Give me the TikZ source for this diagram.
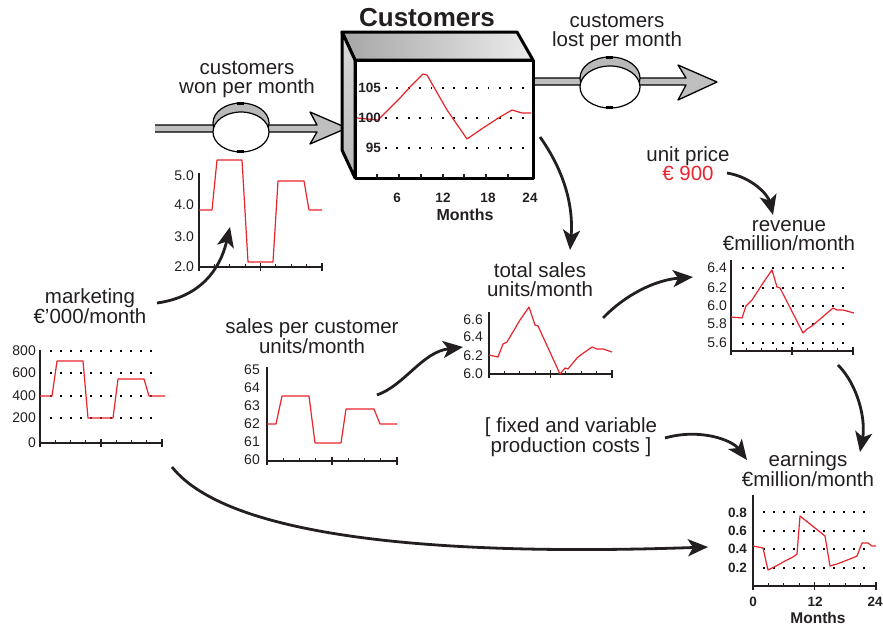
\documentclass[tikz,border=0pt]{standalone}
\usepackage{fontspec}
\setmainfont{Liberation Sans}
\usetikzlibrary{arrows.meta}
\definecolor{txt}{HTML}{231F20}
\definecolor{curve}{HTML}{E8242C}
% x axis with 8 intervals: short ticks, longer ticks at both ends and the middle
\newcommand{\tickaxis}[3]{%
  \draw[axisline] (#1,#3) -- (#2,#3);
  \foreach \i in {1,2,3,5,6,7} \draw[axisline] ({#1+(#2-#1)*\i/8},#3) -- ++(0,-3);
  \foreach \i in {0,4,8} \draw[axisline] ({#1+(#2-#1)*\i/8},{#3-4}) -- ++(0,8);
}
\begin{document}
\begin{tikzpicture}[x=1pt,y=-1pt,
  lbl/.style={font=\fontsize{20.5}{19}\selectfont, align=center, text=txt, inner sep=0pt},
  num/.style={font=\fontsize{14}{14}\selectfont, text=txt, inner sep=0pt, anchor=east},
  bnum/.style={font=\bfseries\fontsize{13.5}{13.5}\selectfont, text=txt, inner sep=0pt},
  axisline/.style={line width=1.1pt, draw=txt},
  gridline/.style={line width=1.8pt, dash pattern=on 1.8pt off 8.2pt, draw=black},
  series/.style={draw=curve, line width=1.2pt, line join=round},
  link/.style={line width=2.8pt, draw=txt, -{Stealth[length=20pt,width=17pt,inset=5pt]}},
  pipeline/.style={draw=black, line width=1.3pt, line join=round},
  pipefill/.style={fill=gray!50},
]
\useasboundingbox (0,0) rectangle (883,627);

% ---------- inflow pipe and valve ----------
\path[pipefill] (155,125) -- (317,125) -- (310,112) -- (347,128) -- (310,144) -- (317,132) -- (155,132) -- cycle;
\draw[pipeline] (155,125) -- (317,125) -- (310,112) -- (347,128) -- (310,144) -- (317,132) -- (155,132);
\fill[gray!55] (213,123) rectangle (269,132);
\draw[line width=1.2pt, fill=gray!55] (241,123) ellipse [x radius=28, y radius=20];
\draw[line width=1.2pt, fill=white] (241,132) ellipse [x radius=28, y radius=20];
\fill (237,102) rectangle (244,105);
\fill (237,150) rectangle (244,153);
\node[lbl] (won) at (247,79) {customers\\won per month};

% ---------- outflow pipe and valve ----------
\path[pipefill] (533,78) -- (686,78) -- (678,65) -- (717,82) -- (678,100) -- (686,85) -- (533,85) -- cycle;
\draw[pipeline] (533,78) -- (686,78) -- (678,65) -- (717,82) -- (678,100) -- (686,85) -- (533,85);
\fill[gray!55] (580,78) rectangle (640,87);
\draw[line width=1.2pt, fill=gray!55] (610,78) ellipse [x radius=30, y radius=21];
\draw[line width=1.2pt, fill=white] (610,87) ellipse [x radius=30, y radius=21];
\fill (606,56) rectangle (613,59);
\fill (606,106) rectangle (613,109);
\node[lbl] (lost) at (617,32.5) {customers\\lost per month};

% ---------- stock box ----------
\node[font=\bfseries\fontsize{26}{26}\selectfont, text=txt, inner sep=0pt] (stocktitle) at (427,18) {Customers};
\draw[line width=3pt, line join=round, left color=gray!70, right color=gray!15]
  (342,32) -- (517,32) -- (533,60) -- (355,60) -- cycle;
\draw[line width=3pt, line join=round, top color=gray!30, bottom color=gray!55]
  (342,32) -- (355,60) -- (355,178) -- (342,150) -- cycle;
\draw[line width=3pt, line join=round, fill=white] (355,60) rectangle (533,178);
\foreach \y in {88,118,148} \draw[gridline, dash pattern=on 1.8pt off 9.6pt] (385,\y) -- (530,\y);
\foreach \x in {377,399,421,443,464,486,508} \draw[axisline] (\x,178) -- ++(0,-4);
\draw[series] (357,118) -- (378,120) -- (400,98) -- (410,87) -- (423,74) -- (427,75) -- (447,110)
  -- (467,139) -- (483,128) -- (500,117) -- (512,110) -- (522,113) -- (531,113);
\node[bnum, anchor=east] (s105) at (381,88) {105};
\node[bnum, anchor=east] (s100) at (381,118) {100};
\node[bnum, anchor=east] (s95) at (381,148) {95};
\node[bnum] (m6) at (397,198) {6};
\node[bnum] (m12) at (443,198) {12};
\node[bnum] (m18) at (488,198) {18};
\node[bnum] (m24) at (530,198) {24};
\node[font=\bfseries\fontsize{16}{16}\selectfont, text=txt, inner sep=0pt] (smonths) at (465,215) {Months};

% ---------- customers won chart ----------
\draw[axisline] (199,173) -- (199,267);
\tickaxis{199}{322}{267}
\draw[series] (199,210) -- (212,210) -- (217,160) -- (242,160) -- (248,262) -- (273,262)
  -- (278,181) -- (304,181) -- (309,210) -- (322,210);
\node[num] (w5) at (194,176) {5.0};
\node[num] (w4) at (194,205) {4.0};
\node[num] (w3) at (194,237) {3.0};
\node[num] (w2) at (194,267) {2.0};

% ---------- marketing chart ----------
\node[lbl] (mkt) at (90,306) {marketing\\€’000/month};
\foreach \y in {351,373,396,418} \draw[gridline] (50,\y) -- (158,\y);
\draw[axisline] (40,350) -- (40,443);
\tickaxis{40}{162}{443}
\draw[series] (40,396) -- (52,396) -- (57,361) -- (83,361) -- (88,418) -- (113,418)
  -- (118,379) -- (144,379) -- (149,396) -- (165,396);
\node[num] (k800) at (36,351) {800};
\node[num] (k600) at (36,373) {600};
\node[num] (k400) at (36,396) {400};
\node[num] (k200) at (36,418) {200};
\node[num] (k0) at (36,443) {0};

% ---------- sales per customer chart ----------
\node[lbl] (spc) at (312,336) {sales per customer\\units/month};
\draw[axisline] (267,367) -- (267,461);
\tickaxis{267}{397}{461}
\draw[series] (267,424) -- (276,424) -- (282,396) -- (309,396) -- (315,443) -- (341,443)
  -- (346,409) -- (374,409) -- (380,424) -- (397,424);
\node[num] (p65) at (260,370) {65};
\node[num] (p64) at (260,388) {64};
\node[num] (p63) at (260,406) {63};
\node[num] (p62) at (260,424) {62};
\node[num] (p61) at (260,442) {61};
\node[num] (p60) at (260,460) {60};

% ---------- total sales chart ----------
\node[lbl] (tot) at (540,280) {total sales\\units/month};
\draw[axisline] (489,312) -- (489,374);
\tickaxis{489}{612}{374}
\draw[series] (489,355) -- (498,357) -- (503,344) -- (507,342) -- (520,320) -- (529,307)
  -- (535,325) -- (538,326) -- (560,374) -- (565,368) -- (568,369) -- (577,358) -- (582,354)
  -- (592,347) -- (597,349) -- (603,349) -- (612,352);
\node[num] (t66) at (483,320) {6.6};
\node[num] (t64) at (483,337) {6.4};
\node[num] (t62) at (483,356) {6.2};
\node[num] (t60) at (483,374) {6.0};

% ---------- unit price and revenue chart ----------
\node[lbl] (price) at (688,164) {unit price\\\textcolor{curve}{€ 900}};
\node[lbl] (rev) at (789,236) {revenue\\€million/month};
\foreach \y in {268,288,306,324,343} \draw[gridline] (742,\y) -- (849,\y);
\draw[axisline] (731,260) -- (731,351);
\tickaxis{731}{853}{351}
\draw[series] (731,317) -- (742,318) -- (746,306) -- (752,300) -- (763,283) -- (772,270)
  -- (777,287) -- (780,288) -- (803,333) -- (807,329) -- (812,326) -- (833,308) -- (837,310)
  -- (843,310) -- (854,313);
\node[num] (r64) at (727,268) {6.4};
\node[num] (r62) at (727,288) {6.2};
\node[num] (r60) at (727,306) {6.0};
\node[num] (r58) at (727,324) {5.8};
\node[num] (r56) at (727,343) {5.6};

% ---------- costs and earnings chart ----------
\node[lbl] (costs) at (571,437) {[ fixed and variable\\production costs ]};
\node[lbl] (earn) at (808,469) {earnings\\€million/month};
\foreach \y in {512,531,549,568} \draw[gridline] (763,\y) -- (872,\y);
\draw[axisline] (753,495) -- (753,586);
\tickaxis{753}{876}{586}
\draw[series] (753,546) -- (763,548) -- (768,570) -- (772,568) -- (778,565) -- (785,561)
  -- (793,557) -- (797,554) -- (800,516) -- (825,536) -- (830,566) -- (837,564) -- (855,557)
  -- (857,556) -- (862,543) -- (868,543) -- (872,546) -- (876,546);
\node[bnum, anchor=east] (e08) at (747,513) {0.8};
\node[bnum, anchor=east] (e06) at (747,531) {0.6};
\node[bnum, anchor=east] (e04) at (747,549) {0.4};
\node[bnum, anchor=east] (e02) at (747,568) {0.2};
\node[bnum] (n0) at (753,602) {0};
\node[bnum] (n12) at (815,602) {12};
\node[bnum] (n24) at (875,602) {24};
\node[font=\bfseries\fontsize{15.5}{15.5}\selectfont, text=txt, inner sep=0pt] (emonths) at (818,617.5) {Months};

% ---------- influence arrows ----------
\coordinate (boxout) at (540,137);
\coordinate (totin) at (570,250);
\coordinate (mktout) at (157,303);
\coordinate (wonin) at (230,227);
\coordinate (spcout) at (377,395);
\coordinate (totleft) at (463,347);
\coordinate (totout) at (603,318);
\coordinate (revin) at (693,277);
\coordinate (priceout) at (727,173);
\coordinate (revtop) at (773,215);
\coordinate (revout) at (838,365);
\coordinate (earnin) at (860,452);
\coordinate (costout) at (665,438);
\coordinate (earnleft) at (747,460);
\coordinate (mktlow) at (172,467);
\coordinate (earnchart) at (708,547);

\draw[link] (boxout) .. controls (560,165) and (574,200) .. (totin);
\draw[link] (mktout) .. controls (200,297) and (220,270) .. (wonin);
\draw[link] (spcout) .. controls (405,385) and (422,352) .. (totleft);
\draw[link] (totout) .. controls (625,295) and (655,280) .. (revin);
\draw[link] (priceout) .. controls (752,177) and (768,195) .. (revtop);
\draw[link] (revout) .. controls (858,385) and (866,420) .. (earnin);
\draw[link] (costout) .. controls (700,428) and (732,440) .. (earnleft);
\draw[link] (mktlow) .. controls (230,540) and (450,556) .. (earnchart);
\end{tikzpicture}
\end{document}
